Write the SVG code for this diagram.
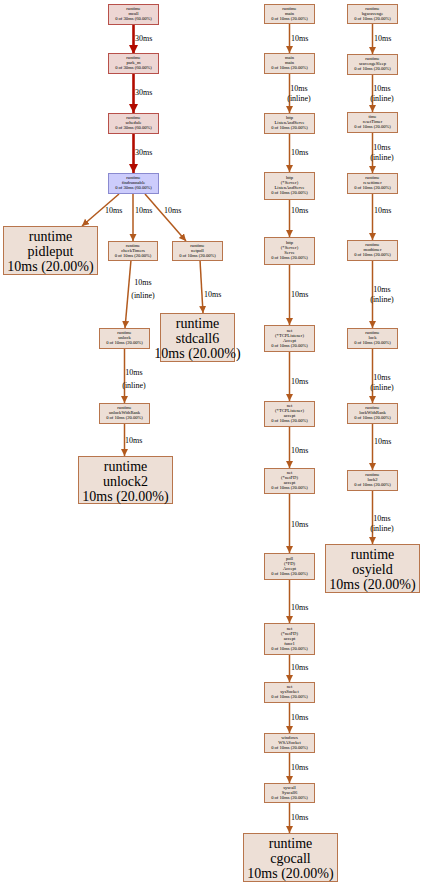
<svg xmlns="http://www.w3.org/2000/svg" width="422" height="885" viewBox="0 0 422 885">
<style>
.n{fill:#eddfd6;stroke:#b8754c;stroke-width:1}
.h{fill:#edd6d3;stroke:#b8504a;stroke-width:1}
.b{fill:#ccccfc;stroke:#8a8ad0;stroke-width:1}
.t{font-family:"Liberation Serif",serif;font-size:4.6px;text-anchor:middle;fill:#000}
.T{font-family:"Liberation Serif",serif;font-size:14px;text-anchor:middle;fill:#000}
.l{font-family:"Liberation Serif",serif;font-size:8px;fill:#000}
.c{text-anchor:middle}
.e{stroke:#b25a1e;stroke-width:1.5;fill:none}
.r{stroke:#b20c00;stroke-width:2.6;fill:none}
</style>
<defs>
<marker id="ao" markerUnits="userSpaceOnUse" markerWidth="8" markerHeight="8" refX="7" refY="3.5" orient="auto"><path d="M0,0L7,3.5L0,7z" fill="#b25a1e"/></marker>
<marker id="ar" markerUnits="userSpaceOnUse" markerWidth="10" markerHeight="10" refX="9" refY="4.5" orient="auto"><path d="M0,0L9,4.5L0,9z" fill="#b20c00"/></marker>
</defs>
<g id="edges">
<path class="r" d="M133.5,24V54" marker-end="url(#ar)"/>
<path class="r" d="M133.5,74V113" marker-end="url(#ar)"/>
<path class="r" d="M133.5,133V173" marker-end="url(#ar)"/>
<path class="e" d="M119,194L82,226" marker-end="url(#ao)"/>
<path class="e" d="M133,194V241" marker-end="url(#ao)"/>
<path class="e" d="M145,194L186,241" marker-end="url(#ao)"/>
<path class="e" d="M131,260L125,328" marker-end="url(#ao)"/>
<path class="e" d="M200,260L203,313" marker-end="url(#ao)"/>
<path class="e" d="M124.5,349V403" marker-end="url(#ao)"/>
<path class="e" d="M124.5,424V456" marker-end="url(#ao)"/>
<path class="e" d="M289.5,24V53" marker-end="url(#ao)"/>
<path class="e" d="M289.5,73V113" marker-end="url(#ao)"/>
<path class="e" d="M289.5,133V172" marker-end="url(#ao)"/>
<path class="e" d="M289.5,199V237" marker-end="url(#ao)"/>
<path class="e" d="M289.5,264V325" marker-end="url(#ao)"/>
<path class="e" d="M289.5,351V401" marker-end="url(#ao)"/>
<path class="e" d="M289.5,426V468" marker-end="url(#ao)"/>
<path class="e" d="M289.5,493V553" marker-end="url(#ao)"/>
<path class="e" d="M289.5,579V623" marker-end="url(#ao)"/>
<path class="e" d="M289.5,654V682" marker-end="url(#ao)"/>
<path class="e" d="M289.5,702V733" marker-end="url(#ao)"/>
<path class="e" d="M289.5,752V783" marker-end="url(#ao)"/>
<path class="e" d="M289.5,802V833" marker-end="url(#ao)"/>
<path class="e" d="M372.5,24V54" marker-end="url(#ao)"/>
<path class="e" d="M372.5,74V112" marker-end="url(#ao)"/>
<path class="e" d="M372.5,132V173" marker-end="url(#ao)"/>
<path class="e" d="M372.5,193V240" marker-end="url(#ao)"/>
<path class="e" d="M372.5,260V328" marker-end="url(#ao)"/>
<path class="e" d="M372.5,348V403" marker-end="url(#ao)"/>
<path class="e" d="M372.5,423V470" marker-end="url(#ao)"/>
<path class="e" d="M372.5,490V544" marker-end="url(#ao)"/>
<g class="l">
<text x="135" y="41">30ms</text>
<text x="135" y="95">30ms</text>
<text x="135" y="155">30ms</text>
<text x="105" y="213">10ms</text>
<text x="135" y="213">10ms</text>
<text x="164" y="213">10ms</text>
<text x="143" y="285" class="c">10ms</text>
<text x="143" y="298" class="c">(inline)</text>
<text x="204" y="297">10ms</text>
<text x="134" y="375" class="c">10ms</text>
<text x="134" y="388" class="c">(inline)</text>
<text x="125" y="443">10ms</text>
<text x="291" y="41">10ms</text>
<text x="299" y="91" class="c">10ms</text>
<text x="299" y="101" class="c">(inline)</text>
<text x="291" y="155">10ms</text>
<text x="291" y="213">10ms</text>
<text x="291" y="297">10ms</text>
<text x="291" y="384">10ms</text>
<text x="291" y="453">10ms</text>
<text x="291" y="527">10ms</text>
<text x="291" y="610">10ms</text>
<text x="291" y="670">10ms</text>
<text x="291" y="720">10ms</text>
<text x="291" y="770">10ms</text>
<text x="291" y="820">10ms</text>
<text x="374" y="41">10ms</text>
<text x="382" y="91" class="c">10ms</text>
<text x="382" y="101" class="c">(inline)</text>
<text x="382" y="150" class="c">10ms</text>
<text x="382" y="160" class="c">(inline)</text>
<text x="374" y="213">10ms</text>
<text x="382" y="292" class="c">10ms</text>
<text x="382" y="302" class="c">(inline)</text>
<text x="382" y="380" class="c">10ms</text>
<text x="382" y="390" class="c">(inline)</text>
<text x="374" y="444">10ms</text>
<text x="382" y="521" class="c">10ms</text>
<text x="382" y="531" class="c">(inline)</text>
</g>
</g>
<g id="n_mcall"><rect class="h" x="108.5" y="4.5" width="50" height="20"/><text class="t" x="133.5" y="10">runtime</text><text class="t" x="133.5" y="15">mcall</text><text class="t" x="133.5" y="20">0 of 30ms (60.00%)</text></g>
<g id="n_park_m"><rect class="h" x="108.5" y="53.5" width="50" height="20"/><text class="t" x="133.5" y="59">runtime</text><text class="t" x="133.5" y="64">park_m</text><text class="t" x="133.5" y="69">0 of 30ms (60.00%)</text></g>
<g id="n_schedule"><rect class="h" x="108.5" y="113.5" width="50" height="20"/><text class="t" x="133.5" y="119">runtime</text><text class="t" x="133.5" y="124">schedule</text><text class="t" x="133.5" y="129">0 of 30ms (60.00%)</text></g>
<g id="n_findrunnable"><rect class="b" x="108.5" y="173.5" width="50" height="20"/><text class="t" x="133.5" y="179">runtime</text><text class="t" x="133.5" y="184">findrunnable</text><text class="t" x="133.5" y="189">0 of 30ms (60.00%)</text></g>
<g id="n_pidleput"><rect class="n" x="3.5" y="226.5" width="94" height="48"/><text class="T" x="50.5" y="241">runtime</text><text class="T" x="50.5" y="256">pidleput</text><text class="T" x="50.5" y="271">10ms (20.00%)</text></g>
<g id="n_checkTimers"><rect class="n" x="108.5" y="241.5" width="49" height="19"/><text class="t" x="133" y="247">runtime</text><text class="t" x="133" y="252">checkTimers</text><text class="t" x="133" y="257">0 of 10ms (20.00%)</text></g>
<g id="n_netpoll"><rect class="n" x="172.5" y="241.5" width="50" height="19"/><text class="t" x="197.5" y="247">runtime</text><text class="t" x="197.5" y="252">netpoll</text><text class="t" x="197.5" y="257">0 of 10ms (20.00%)</text></g>
<g id="n_stdcall6"><rect class="n" x="160.5" y="313.5" width="74" height="48"/><text class="T" x="197.5" y="328">runtime</text><text class="T" x="197.5" y="343">stdcall6</text><text class="T" x="197.5" y="358">10ms (20.00%)</text></g>
<g id="n_unlock"><rect class="n" x="99.5" y="328.5" width="50" height="20"/><text class="t" x="124.5" y="334">runtime</text><text class="t" x="124.5" y="339">unlock</text><text class="t" x="124.5" y="344">0 of 10ms (20.00%)</text></g>
<g id="n_unlockWithRank"><rect class="n" x="99.5" y="403.5" width="50" height="20"/><text class="t" x="124.5" y="409">runtime</text><text class="t" x="124.5" y="414">unlockWithRank</text><text class="t" x="124.5" y="419">0 of 10ms (20.00%)</text></g>
<g id="n_unlock2"><rect class="n" x="78.5" y="456.5" width="94" height="47"/><text class="T" x="125.5" y="471">runtime</text><text class="T" x="125.5" y="486">unlock2</text><text class="T" x="125.5" y="501">10ms (20.00%)</text></g>
<g id="n_rtmain"><rect class="n" x="264.5" y="4.5" width="50" height="19"/><text class="t" x="289.5" y="10">runtime</text><text class="t" x="289.5" y="15">main</text><text class="t" x="289.5" y="20">0 of 10ms (20.00%)</text></g>
<g id="n_mainmain"><rect class="n" x="264.5" y="53.5" width="50" height="20"/><text class="t" x="289.5" y="59">main</text><text class="t" x="289.5" y="64">main</text><text class="t" x="289.5" y="69">0 of 10ms (20.00%)</text></g>
<g id="n_ListenAndServe"><rect class="n" x="264.5" y="113.5" width="50" height="20"/><text class="t" x="289.5" y="119">http</text><text class="t" x="289.5" y="124">ListenAndServe</text><text class="t" x="289.5" y="129">0 of 10ms (20.00%)</text></g>
<g id="n_SrvListenAndServe"><rect class="n" x="264.5" y="172.5" width="50" height="27"/><text class="t" x="289.5" y="178.5">http</text><text class="t" x="289.5" y="183.5">(*Server)</text><text class="t" x="289.5" y="188.5">ListenAndServe</text><text class="t" x="289.5" y="193.5">0 of 10ms (20.00%)</text></g>
<g id="n_Serve"><rect class="n" x="264.5" y="237.5" width="50" height="27"/><text class="t" x="289.5" y="243.5">http</text><text class="t" x="289.5" y="248.5">(*Server)</text><text class="t" x="289.5" y="253.5">Serve</text><text class="t" x="289.5" y="258.5">0 of 10ms (20.00%)</text></g>
<g id="n_TCPAccept"><rect class="n" x="264.5" y="325.5" width="50" height="26"/><text class="t" x="289.5" y="331.5">net</text><text class="t" x="289.5" y="336.5">(*TCPListener)</text><text class="t" x="289.5" y="341.5">Accept</text><text class="t" x="289.5" y="346.5">0 of 10ms (20.00%)</text></g>
<g id="n_TCPaccept"><rect class="n" x="264.5" y="401.5" width="50" height="25"/><text class="t" x="289.5" y="407">net</text><text class="t" x="289.5" y="412">(*TCPListener)</text><text class="t" x="289.5" y="417">accept</text><text class="t" x="289.5" y="422">0 of 10ms (20.00%)</text></g>
<g id="n_netFDaccept"><rect class="n" x="264.5" y="468.5" width="50" height="25"/><text class="t" x="289.5" y="474">net</text><text class="t" x="289.5" y="479">(*netFD)</text><text class="t" x="289.5" y="484">accept</text><text class="t" x="289.5" y="489">0 of 10ms (20.00%)</text></g>
<g id="n_FDAccept"><rect class="n" x="264.5" y="553.5" width="50" height="26"/><text class="t" x="289.5" y="559.5">poll</text><text class="t" x="289.5" y="564.5">(*FD)</text><text class="t" x="289.5" y="569.5">Accept</text><text class="t" x="289.5" y="574.5">0 of 10ms (20.00%)</text></g>
<g id="n_acceptfunc1"><rect class="n" x="264.5" y="623.5" width="50" height="31"/><text class="t" x="289.5" y="629.5">net</text><text class="t" x="289.5" y="634.5">(*netFD)</text><text class="t" x="289.5" y="639.5">accept</text><text class="t" x="289.5" y="644.5">func1</text><text class="t" x="289.5" y="649.5">0 of 10ms (20.00%)</text></g>
<g id="n_sysSocket"><rect class="n" x="264.5" y="682.5" width="50" height="20"/><text class="t" x="289.5" y="688">net</text><text class="t" x="289.5" y="693">sysSocket</text><text class="t" x="289.5" y="698">0 of 10ms (20.00%)</text></g>
<g id="n_WSASocket"><rect class="n" x="264.5" y="733.5" width="50" height="19"/><text class="t" x="289.5" y="739">windows</text><text class="t" x="289.5" y="744">WSASocket</text><text class="t" x="289.5" y="749">0 of 10ms (20.00%)</text></g>
<g id="n_Syscall6"><rect class="n" x="264.5" y="783.5" width="50" height="19"/><text class="t" x="289.5" y="789">syscall</text><text class="t" x="289.5" y="794">Syscall6</text><text class="t" x="289.5" y="799">0 of 10ms (20.00%)</text></g>
<g id="n_cgocall"><rect class="n" x="243.5" y="833.5" width="94" height="48"/><text class="T" x="290.5" y="848">runtime</text><text class="T" x="290.5" y="863">cgocall</text><text class="T" x="290.5" y="878">10ms (20.00%)</text></g>
<g id="n_bgscavenge"><rect class="n" x="347.5" y="4.5" width="50" height="19"/><text class="t" x="372.5" y="10">runtime</text><text class="t" x="372.5" y="15">bgscavenge</text><text class="t" x="372.5" y="20">0 of 10ms (20.00%)</text></g>
<g id="n_scavengeSleep"><rect class="n" x="347.5" y="54.5" width="50" height="20"/><text class="t" x="372.5" y="60">runtime</text><text class="t" x="372.5" y="65">scavengeSleep</text><text class="t" x="372.5" y="70">0 of 10ms (20.00%)</text></g>
<g id="n_resetTimer"><rect class="n" x="347.5" y="112.5" width="50" height="20"/><text class="t" x="372.5" y="118">time</text><text class="t" x="372.5" y="123">resetTimer</text><text class="t" x="372.5" y="128">0 of 10ms (20.00%)</text></g>
<g id="n_resettimer"><rect class="n" x="347.5" y="173.5" width="50" height="20"/><text class="t" x="372.5" y="179">runtime</text><text class="t" x="372.5" y="184">resettimer</text><text class="t" x="372.5" y="189">0 of 10ms (20.00%)</text></g>
<g id="n_modtimer"><rect class="n" x="347.5" y="240.5" width="50" height="20"/><text class="t" x="372.5" y="246">runtime</text><text class="t" x="372.5" y="251">modtimer</text><text class="t" x="372.5" y="256">0 of 10ms (20.00%)</text></g>
<g id="n_lock"><rect class="n" x="347.5" y="328.5" width="50" height="20"/><text class="t" x="372.5" y="334">runtime</text><text class="t" x="372.5" y="339">lock</text><text class="t" x="372.5" y="344">0 of 10ms (20.00%)</text></g>
<g id="n_lockWithRank"><rect class="n" x="347.5" y="403.5" width="50" height="20"/><text class="t" x="372.5" y="409">runtime</text><text class="t" x="372.5" y="414">lockWithRank</text><text class="t" x="372.5" y="419">0 of 10ms (20.00%)</text></g>
<g id="n_lock2"><rect class="n" x="347.5" y="470.5" width="50" height="20"/><text class="t" x="372.5" y="476">runtime</text><text class="t" x="372.5" y="481">lock2</text><text class="t" x="372.5" y="486">0 of 10ms (20.00%)</text></g>
<g id="n_osyield"><rect class="n" x="325.5" y="544.5" width="94" height="48"/><text class="T" x="372.5" y="559">runtime</text><text class="T" x="372.5" y="574">osyield</text><text class="T" x="372.5" y="589">10ms (20.00%)</text></g>
</svg>
